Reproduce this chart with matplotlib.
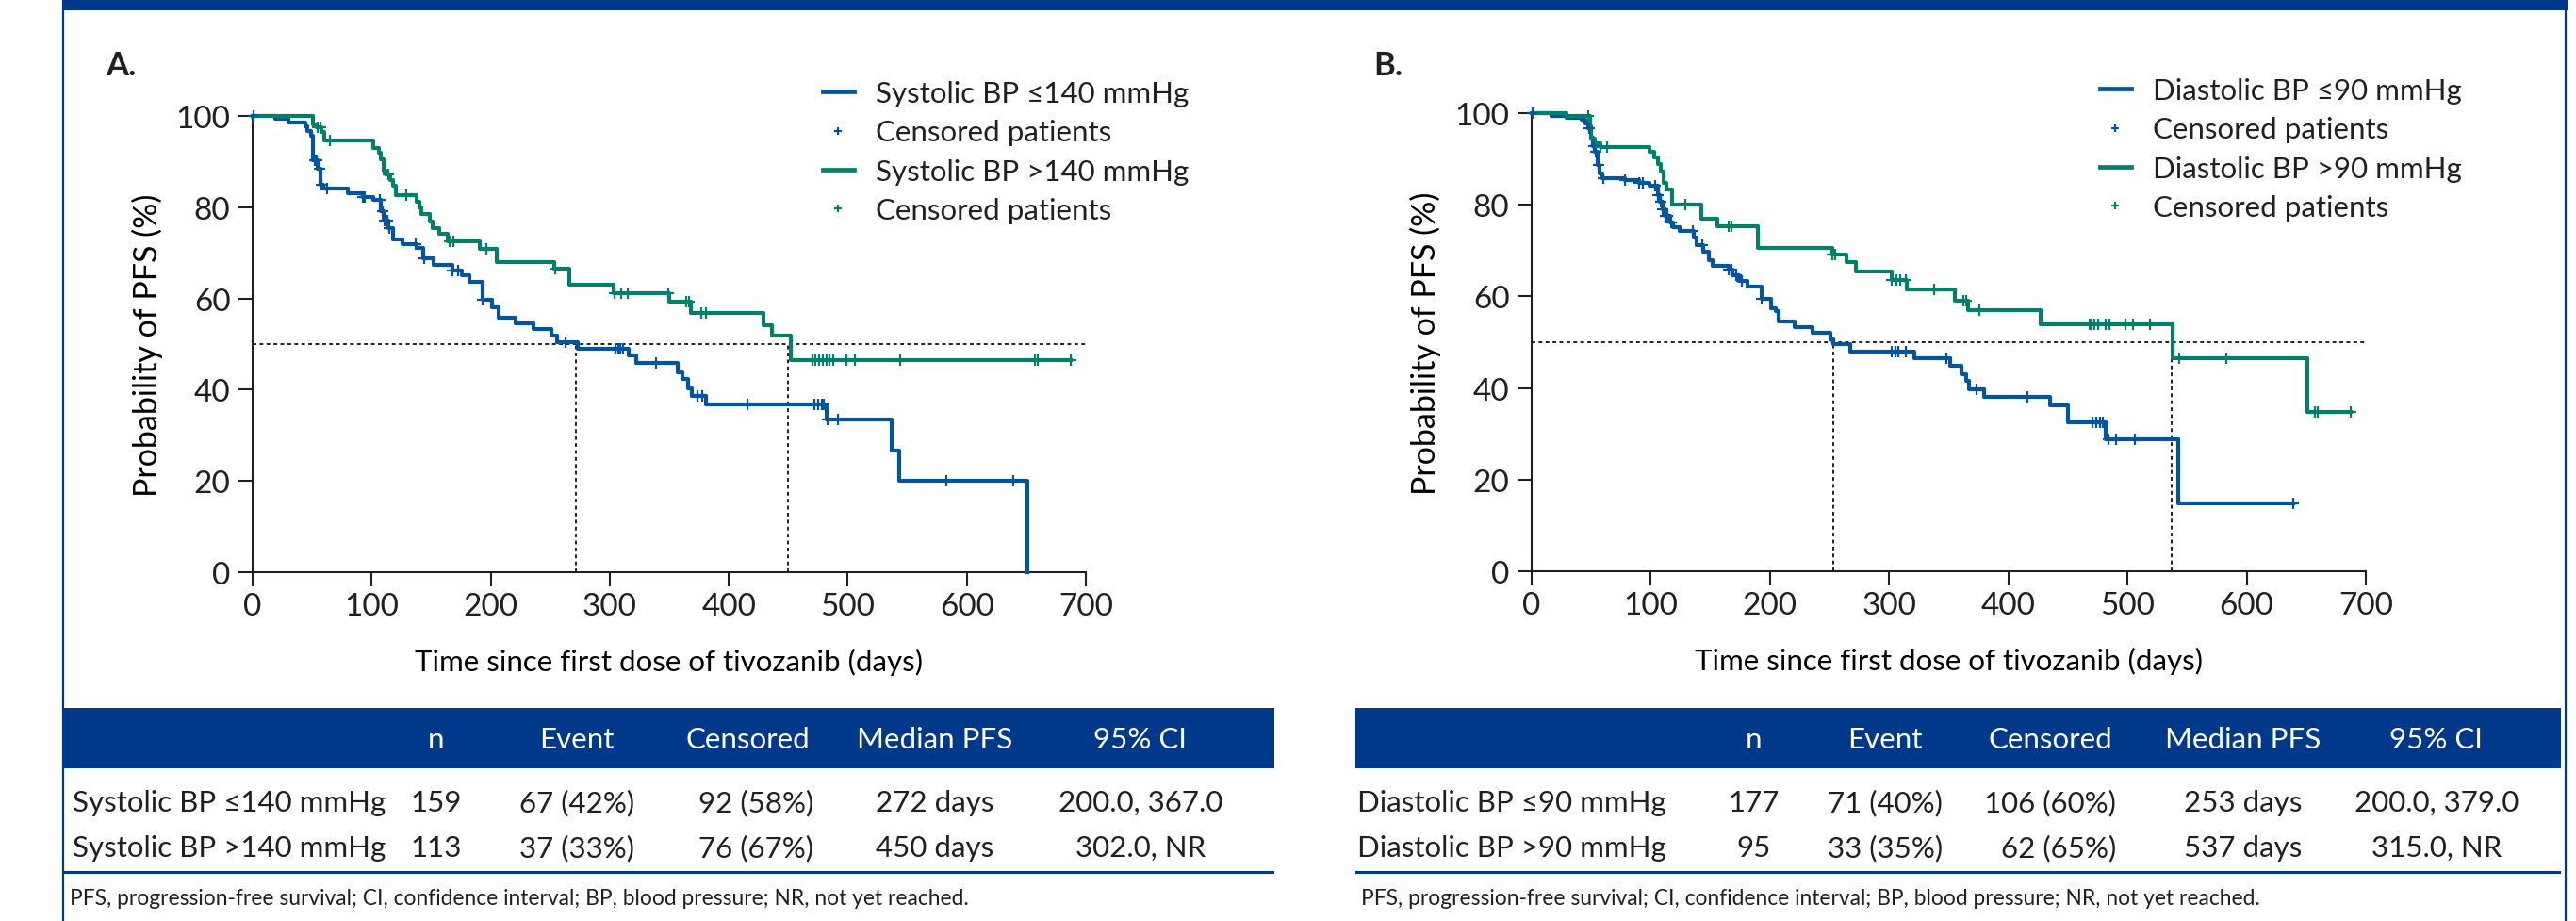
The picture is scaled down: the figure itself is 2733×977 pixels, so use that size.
import numpy as np
import matplotlib
matplotlib.use("Agg")
import matplotlib.pyplot as plt
from matplotlib.lines import Line2D
from matplotlib.patches import Rectangle

# ---------------- data ----------------
# Panel A: systolic BP <=140 mmHg, Kaplan-Meier steps (day, PFS % after the drop)
sys_low_t = [19, 30, 44, 46, 49, 51, 55, 57, 59.5, 80, 93, 101, 107.5, 110, 114, 117.6,
             126, 138, 143, 152, 168, 176, 182, 193, 201, 207, 221, 236, 251, 256, 273,
             316, 322, 357, 361, 366, 369, 381, 482, 537, 543, 651]
sys_low_s = [99.3, 98.6, 97.7, 96.7, 95.7, 90.2, 88.5, 85.0, 84.0, 83.0, 82.3, 81.6, 79.2,
             77.1, 75.4, 73.0, 72.0, 71.1, 68.7, 67.3, 66.2, 65.0, 63.6, 59.8, 58.1, 55.7,
             54.5, 53.4, 51.8, 50.5, 48.9, 47.5, 45.8, 43.9, 42.3, 40.3, 38.6, 36.8, 33.4,
             26.7, 20.1, 0.0]
sys_low_cens = [0.6, 52, 53, 54, 56, 57.5, 62.6, 93, 94, 107, 109, 111, 113, 115, 137, 144,
                168, 173, 193, 263, 305, 307, 309, 311, 339, 374, 378, 416, 472, 475, 478,
                480, 483, 492, 583, 639]

# Panel A: systolic BP >140 mmHg
sys_high_t = [51, 54, 57.5, 60, 101, 106, 108, 110, 112, 115.5, 118, 120, 138, 140, 142,
              149, 151, 157, 164, 191, 205, 253, 266, 303, 350, 368, 429, 436, 452]
sys_high_s = [98.1, 97.5, 96.4, 94.6, 92.9, 91.9, 90.5, 88.1, 87.1, 86.0, 84.7, 82.6, 81.2,
              79.9, 78.5, 76.9, 75.5, 74.1, 72.6, 70.9, 68.0, 66.5, 63.1, 61.2, 59.2, 56.8,
              54.2, 51.8, 46.5]
sys_high_cens = [55, 57, 64.8, 114, 129, 165.6, 168.8, 196, 254, 304, 309.5, 315, 349, 364,
                 367, 377, 381, 470, 473, 476, 479, 482, 485, 488, 499, 506, 544, 657, 660, 687]

# Panel B: diastolic BP <=90 mmHg
dia_low_t = [17, 29, 42, 45, 47.5, 50, 51.5, 53.3, 55.5, 57, 59.4, 78, 90, 99, 105.6, 107.5,
             109.6, 112, 116, 119, 124, 136, 138.6, 143.9, 149, 151.8, 165, 168.5, 174, 181,
             192.7, 200.6, 204.6, 207, 220.5, 236, 250.8, 253.5, 267, 321, 351, 361, 364.4,
             367.4, 379.3, 434.7, 450.2, 481.5, 542.5]
dia_low_s = [99.3, 99.0, 98.6, 97.8, 96.8, 94.7, 92.7, 91.6, 88.6, 86.9, 85.8, 85.4, 84.8,
             84.1, 82.1, 80.7, 79.0, 77.6, 76.2, 75.2, 74.2, 72.8, 71.1, 69.8, 68.0, 66.7,
             65.8, 64.6, 63.4, 62.2, 59.5, 57.4, 56.7, 54.6, 53.3, 52.0, 50.6, 49.5, 48.0,
             46.5, 44.8, 43.1, 41.5, 39.8, 38.1, 36.2, 32.5, 28.9, 14.8]
dia_low_cens = [0.5, 48, 52, 54, 56, 60, 78, 90, 93, 104, 106, 108, 110, 112, 114, 117, 135,
                143, 165, 168, 172, 176, 193, 302, 305, 308, 314, 348, 373, 416, 471, 474,
                477, 479, 484, 490, 506, 639]

# Panel B: diastolic BP >90 mmHg
dia_high_t = [29, 48.8, 50, 53, 58, 99, 103, 106, 108.3, 110.4, 113.5, 118, 142, 155.8, 190,
              252, 264, 272, 302, 315, 355, 366, 427, 537.5, 650.7]
dia_high_s = [99.3, 97.1, 94.4, 93.4, 92.5, 91.5, 90.3, 88.9, 87.2, 84.8, 83.4, 80.0, 76.9,
              75.4, 70.6, 69.1, 67.4, 65.5, 63.5, 61.6, 59.0, 56.9, 54.0, 46.5, 34.8]
dia_high_cens = [47.5, 58, 63.4, 129, 165, 167.7, 252, 255, 302, 306, 309, 314, 337.5, 362,
                 365, 376, 468, 470, 472, 475, 482, 485, 498, 505, 519, 543, 583, 657, 660, 687]

# Summary tables
table_header = ["n", "Event", "Censored", "Median PFS", "95% CI"]
sys_groups = ["Systolic BP \u2264140 mmHg", "Systolic BP >140 mmHg"]
sys_n = [159, 113]
sys_events = [67, 37]
sys_event_pct = [42, 33]
sys_censored = [92, 76]
sys_censored_pct = [58, 67]
sys_median = [272, 450]
sys_ci = ["200.0, 367.0", "302.0, NR"]

dia_groups = ["Diastolic BP \u226490 mmHg", "Diastolic BP >90 mmHg"]
dia_n = [177, 95]
dia_events = [71, 33]
dia_event_pct = [40, 35]
dia_censored = [106, 62]
dia_censored_pct = [60, 65]
dia_median = [253, 537]
dia_ci = ["200.0, 379.0", "315.0, NR"]

footnote = ("PFS, progression-free survival; CI, confidence interval; BP, blood pressure; "
            "NR, not yet reached.")

# ---------------- style ----------------
BLUE = "#0054A0"
GREEN = "#00806A"
NAVY = "#00388A"
INK = "#231F20"
FS = 22.5

plt.rcParams["font.family"] = ["Lato", "DejaVu Sans"]
plt.rcParams["text.color"] = INK

W, H = 2733, 978
fig = plt.figure(figsize=(W / 100, H / 100), dpi=100)

# background layer in pixel coordinates (frame, tables, footnotes)
bg = fig.add_axes([0, 0, 1, 1])
bg.set_xlim(0, W)
bg.set_ylim(H, 0)
bg.axis("off")


def step_value(times, surv, t):
    """PFS value of the step curve at time t"""
    levels = np.concatenate([[100.0], surv])
    return levels[np.searchsorted(times, t, side="right")]


def plot_km(ax, times, surv, cens, color):
    times = np.asarray(times, float)
    surv = np.asarray(surv, float)
    end = max(times[-1], max(cens))
    x = np.concatenate([[0], times, [end]])
    y = np.concatenate([[100], surv, [surv[-1]]])
    ax.step(x, y, where="post", color=color, lw=3.0, clip_on=False, zorder=3)
    cy = step_value(times, surv, np.asarray(cens))
    ax.plot(cens, cy, ls="none", marker="+", ms=8.5, mew=1.6, color=color,
            clip_on=False, zorder=4)


def setup_axes(rect):
    ax = fig.add_axes(rect)
    ax.set_facecolor("none")
    ax.set_xlim(0, 700)
    ax.set_ylim(0, 100)
    ax.set_xticks(range(0, 701, 100))
    ax.set_yticks(range(0, 101, 20))
    for s in ("top", "right"):
        ax.spines[s].set_visible(False)
    for s in ("left", "bottom"):
        ax.spines[s].set_linewidth(1.5)
        ax.spines[s].set_color(INK)
    ax.tick_params(length=11, width=1.5, color=INK, labelsize=24, labelcolor=INK)
    ax.tick_params(axis="x", pad=4)
    ax.tick_params(axis="y", pad=6)
    ax.set_xlabel("Time since first dose of tivozanib (days)", fontsize=22.5)
    ax.set_ylabel("Probability of PFS (%)", fontsize=24.5)
    ax.xaxis.set_label_coords(0.5, -0.165)
    ax.yaxis.set_label_coords(-0.108, 0.5)
    return ax


def median_guides(ax, medians):
    ax.axhline(50, color=INK, lw=1.4, ls=(0, (2, 1.8)), zorder=2)
    ax.vlines(medians, 0, 50, color=INK, lw=1.4, ls=(0, (2, 1.8)), zorder=2)


def add_legend(ax, labels, x_px, y_px):
    handles = [Line2D([], [], color=BLUE, lw=3.4),
               Line2D([], [], color=BLUE, ls="none", marker="+", ms=6, mew=1.6),
               Line2D([], [], color=GREEN, lw=3.4),
               Line2D([], [], color=GREEN, ls="none", marker="+", ms=6, mew=1.6)]
    ax.legend(handles, labels, loc="upper left", bbox_to_anchor=(x_px / W, 1 - y_px / H),
              bbox_transform=fig.transFigure, frameon=False, fontsize=FS,
              handlelength=1.05, handletextpad=0.75, labelspacing=0.43,
              borderpad=0, borderaxespad=0)


def draw_table(x0, x1, label_x, col_x, groups, n, ev, ev_pct, ce, ce_pct, med, ci):
    bg.add_patch(Rectangle((x0, 752), x1 - x0, 64, color=NAVY, lw=0))
    for cx, h in zip(col_x, table_header):
        bg.text(cx, 785, h, color="white", ha="center", va="center", fontsize=FS)
    for i, row_y in enumerate([852, 900]):
        bg.text(label_x, row_y, groups[i], ha="left", va="center", fontsize=FS)
        cells = [str(n[i]), f"{ev[i]} ({ev_pct[i]}%)", f"{ce[i]} ({ce_pct[i]}%)",
                 f"{med[i]} days", ci[i]]
        for j, (cx, txt) in enumerate(zip(col_x, cells)):
            if j == 2:
                bg.text(cx + 70, row_y, txt, ha="right", va="center", fontsize=FS)
            else:
                bg.text(cx, row_y, txt, ha="center", va="center", fontsize=FS)
    bg.add_patch(Rectangle((x0, 925), x1 - x0, 3, color=NAVY, lw=0))
    bg.text(x0 + 6, 953, footnote, ha="left", va="center", fontsize=16.4)


# ---------------- frame ----------------
bg.add_patch(Rectangle((66, 0), 2724 - 66, 12, color=NAVY, lw=0))
bg.plot([67, 67], [0, H], color=NAVY, lw=1.6)
bg.plot([2722, 2722], [0, H], color=NAVY, lw=1.6)

# ---------------- panel A ----------------
axA = setup_axes([268 / W, 1 - 608 / H, 884 / W, 484 / H])
median_guides(axA, sys_median)
plot_km(axA, sys_low_t, sys_low_s, sys_low_cens, BLUE)
plot_km(axA, sys_high_t, sys_high_s, sys_high_cens, GREEN)
add_legend(axA, [sys_groups[0], "Censored patients", sys_groups[1], "Censored patients"],
           873, 86)
bg.text(112, 70, "A.", fontsize=25, fontweight="bold", ha="left", va="center")

# ---------------- panel B ----------------
axB = setup_axes([1625 / W, 1 - 607 / H, 885 / W, 486 / H])
median_guides(axB, dia_median)
plot_km(axB, dia_low_t, dia_low_s, dia_low_cens, BLUE)
plot_km(axB, dia_high_t, dia_high_s, dia_high_cens, GREEN)
add_legend(axB, [dia_groups[0], "Censored patients", dia_groups[1], "Censored patients"],
           2228, 83)
bg.text(1457, 70, "B.", fontsize=25, fontweight="bold", ha="left", va="center")

# ---------------- tables ----------------
draw_table(68, 1352, 77, [463, 612, 793, 992, 1210], sys_groups, sys_n, sys_events,
           sys_event_pct, sys_censored, sys_censored_pct, sys_median, sys_ci)
draw_table(1438, 2717, 1440, [1861, 2000, 2175, 2380, 2585], dia_groups, dia_n, dia_events,
           dia_event_pct, dia_censored, dia_censored_pct, dia_median, dia_ci)

fig.savefig("out.png", dpi=100)
